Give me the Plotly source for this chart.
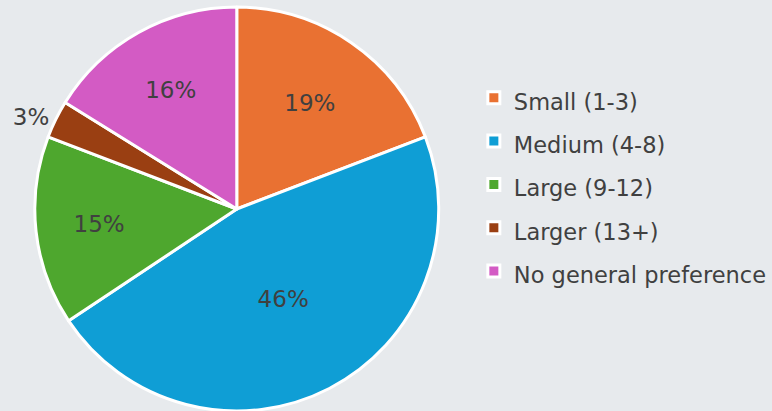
import plotly.graph_objects as go

labels = ["Small (1-3)", "Medium (4-8)", "Large (9-12)", "Larger (13+)", "No general preference"]
values = [19, 46, 15, 3, 16]
colors = ["#E97132", "#0F9ED5", "#4EA72E", "#9A3F12", "#D35BC4"]
text_pos = ["inside", "inside", "inside", "outside", "inside"]

legend_labels = ['<span style="font-size:22.5px">' + s + '</span>' for s in labels]

W, H = 772, 420

fig = go.Figure(go.Pie(
    labels=legend_labels,
    values=values,
    sort=False,
    direction="clockwise",
    rotation=0,
    marker=dict(colors=colors, line=dict(color="white", width=3)),
    texttemplate="%{percent:.0%}",
    textposition=text_pos,
    insidetextorientation="horizontal",
    textfont=dict(family="DejaVu Sans", size=23, color="#404040"),
    outsidetextfont=dict(family="DejaVu Sans", size=23, color="#404040"),
    domain=dict(x=[35 / W, 441 / W], y=[0, 1]),
    hoverinfo="label+percent",
))

fig.update_layout(
    width=W, height=H,
    margin=dict(l=0, r=0, t=6, b=8),
    paper_bgcolor="#e7eaed",
    plot_bgcolor="#e7eaed",
    showlegend=True,
    legend=dict(
        x=0.617, y=0.56, xanchor="left", yanchor="middle",
        font=dict(family="DejaVu Sans", size=31, color="#404040"),
        bgcolor="rgba(0,0,0,0)",
        itemwidth=30,
    ),
)

fig.write_html(
    "out.html",
    config={"displayModeBar": False},
    post_script="document.body.style.margin='0';document.body.style.overflow='hidden';",
)
